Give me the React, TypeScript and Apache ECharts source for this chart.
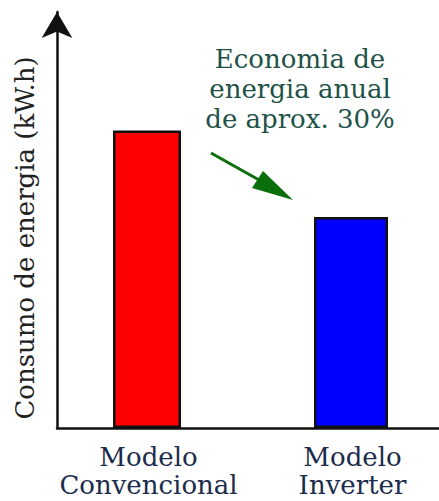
import React, { useEffect, useRef } from "react";
import * as echarts from "echarts";

const categories = ["Modelo\nConvencional", "Modelo\nInverter"];
const consumoConvencional = [71.5];
const consumoInverter = [50.7];
const yAxisTitle = "Consumo de energia (kW.h)";
const annotationLines = ["Economia de", "energia anual", "de aprox. 30%"];

const FONT = "DejaVu Serif";

export default function App() {
  const ref = useRef<HTMLDivElement>(null);
  useEffect(() => {
    if (!ref.current) return;
    const chart = echarts.init(ref.current, null, { renderer: "svg" });
    chart.setOption({
      animation: false,
      backgroundColor: "#ffffff",
      textStyle: { fontFamily: FONT },
      grid: { left: 57, right: 0, top: 12, bottom: 73, outerBoundsMode: "none", containLabel: false },
      xAxis: {
        type: "value",
        min: -0.4485,
        max: 1.424,
        splitLine: { show: false },
        axisLine: { show: true, onZero: false, lineStyle: { color: "#111", width: 2.5 } },
        axisTick: { show: false },
        axisLabel: {
          customValues: [0, 1],
          formatter: (v: number) => categories[Math.round(v)] ?? "",
          fontFamily: FONT,
          fontSize: 26,
          lineHeight: 28,
          color: "#1c2c4c",
          margin: 15,
          showMinLabel: true,
          showMaxLabel: true,
        },
      },
      yAxis: {
        type: "value",
        min: 0,
        max: 100,
        splitLine: { show: false },
        axisTick: { show: false },
        axisLabel: { show: false },
        axisLine: {
          show: true,
          onZero: false,
          lineStyle: { color: "#111", width: 2.5 },
          symbol: ["none", "arrow"],
          symbolSize: [23, 26],
        },
        name: yAxisTitle,
        nameLocation: "middle",
        nameRotate: 90,
        nameGap: 19,
        nameTextStyle: { fontFamily: FONT, fontSize: 26, color: "#222", padding: [0, 36, 0, 0] },
      },
      series: [
        {
          type: "bar",
          data: consumoConvencional.map((v, i) => [i, v]),
          barWidth: 68,
          barGap: "-104.4%",
          itemStyle: { color: "#ff0000", borderColor: "#111", borderWidth: 2.5 },
        },
        {
          type: "bar",
          data: consumoInverter.map((v, i) => [i + 1, v]),
          barWidth: 74,
          barGap: "-104.4%",
          itemStyle: { color: "#0000ff", borderColor: "#111", borderWidth: 2.5 },
        },
      ],
      graphic: [
        ...annotationLines.map((t, i) => ({
          type: "text",
          x: 300,
          y: 46 + i * 30,
          style: {
            text: t,
            fontFamily: FONT,
            fontSize: 26,
            fill: "#1e5248",
            textAlign: "center",
          },
        })),
        {
          type: "line",
          shape: { x1: 211, y1: 153, x2: 268, y2: 185 },
          style: { stroke: "#0a6e0a", lineWidth: 3 },
        },
        {
          type: "polygon",
          shape: { points: [[293, 200], [252, 188], [263, 171]] },
          style: { fill: "#0a6e0a" },
        },
      ],
    });
    return () => chart.dispose();
  }, []);
  return <div ref={ref} style={{ width: 439, height: 501, position: "absolute", left: 0, top: 0 }} />;
}
